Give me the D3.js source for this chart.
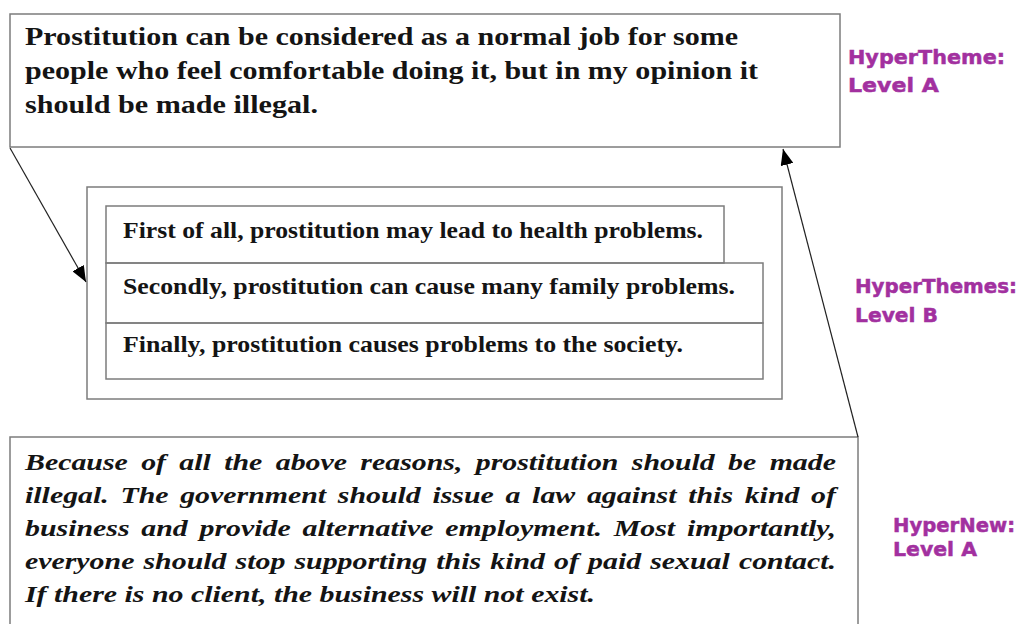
<!DOCTYPE html>
<html>
<head>
<meta charset="utf-8">
<script src="https://cdn.jsdelivr.net/npm/d3@7"></script>
<style>
  body { margin: 0; background: #fff; }
</style>
</head>
<body>
<div id="chart"></div>
<script>
// --- Text content ---
const thesisLines = [
    "Prostitution can be considered as a normal job for some",
    "people who feel comfortable doing it, but in my opinion it",
    "should be made illegal."
];
const reasonLines = [
    "First of all, prostitution may lead to health problems.",
    "Secondly, prostitution can cause many family problems.",
    "Finally, prostitution causes problems to the society."
];
const conclusionLines = [
    "Because of all the above reasons, prostitution should be made",
    "illegal. The government should issue a law against this kind of",
    "business and provide alternative employment. Most importantly,",
    "everyone should stop supporting this kind of paid sexual contact.",
    "If there is no client, the business will not exist."
];
const levelTitles = ["HyperTheme:", "HyperThemes:", "HyperNew:"];
const levelNames = ["Level A", "Level B", "Level A"];

// --- Layout ---
const W = 1020, H = 624;
const boxStroke = "#7c7c7c";
const ink = "#141414";
const purple = "#a2309f";
const serif = "Liberation Serif, Times New Roman, serif";

const topBox = { x: 10, y: 14, w: 830, h: 133 };
const midBox = { x: 87, y: 187, w: 695, h: 212 };
const rowBoxes = [
    { x: 106, y: 206, w: 618, h: 57 },
    { x: 106, y: 263, w: 657, h: 60 },
    { x: 106, y: 323, w: 657, h: 56 }
];
const bottomBox = { x: 10, y: 437, w: 848, h: 200 };

const svg = d3.select("#chart").append("svg")
    .attr("width", W).attr("height", H)
    .style("display", "block");

svg.append("defs").append("marker")
    .attr("id", "head")
    .attr("viewBox", "0 0 16 13")
    .attr("markerUnits", "userSpaceOnUse")
    .attr("markerWidth", 16).attr("markerHeight", 13)
    .attr("refX", 16).attr("refY", 6.5)
    .attr("orient", "auto")
    .append("path").attr("d", "M0,0 L16,6.5 L0,13 Z").attr("fill", "#000");

// Boxes
const allBoxes = [topBox, midBox, ...rowBoxes, bottomBox];
svg.selectAll("rect.box").data(allBoxes).join("rect")
    .attr("class", "box")
    .attr("x", d => d.x).attr("y", d => d.y)
    .attr("width", d => d.w).attr("height", d => d.h)
    .attr("fill", "none")
    .attr("stroke", boxStroke).attr("stroke-width", 1.5);

// squeeze / stretch a text line to a given width
function fitWidth(sel, widthFn) {
    sel.attr("textLength", widthFn).attr("lengthAdjust", "spacingAndGlyphs");
}

// Thesis text (bold serif)
const thesisWidths = [713, 733, 293];
svg.selectAll("text.thesis").data(thesisLines).join("text")
    .attr("class", "thesis")
    .attr("x", 25).attr("y", (d, i) => 45 + i * 34)
    .style("font-family", serif)
    .style("font-weight", "bold").style("font-size", "26px")
    .attr("fill", ink)
    .text(d => d)
    .call(fitWidth, (d, i) => thesisWidths[i]);

// Reasons (bold serif, condensed)
const reasonWidths = [580, 612, 560];
const reasonBase = [238, 294, 352];
svg.selectAll("text.reason").data(reasonLines).join("text")
    .attr("class", "reason")
    .attr("x", 123).attr("y", (d, i) => reasonBase[i])
    .style("font-family", serif)
    .style("font-weight", "bold").style("font-size", "24px")
    .attr("fill", ink)
    .text(d => d)
    .call(fitWidth, (d, i) => reasonWidths[i]);

// Conclusion (bold italic, wide, justified word by word)
const textLeft = 25, justifyWidth = 811, lastLineWidth = 570;
const conclG = svg.append("g");
const concl = conclG.selectAll("text.concl").data(conclusionLines).join("text")
    .attr("class", "concl")
    .attr("y", (d, i) => 470 + i * 33)
    .style("font-family", serif)
    .style("font-weight", "bold").style("font-style", "italic")
    .style("font-size", "24px")
    .attr("fill", ink);

const lineSpans = [];
concl.each(function(line) {
    const el = d3.select(this);
    const spans = line.split(" ").map(w => el.append("tspan").text(w));
    lineSpans.push({ spans, widths: spans.map(s => s.node().getComputedTextLength()) });
});
const spaceW = 6;
const lastInfo = lineSpans[lineSpans.length - 1];
const lastNatural = d3.sum(lastInfo.widths) + spaceW * (lastInfo.widths.length - 1);
const sx = lastLineWidth / lastNatural;
conclG.attr("transform", `translate(${textLeft},0) scale(${sx},1)`);

lineSpans.forEach((info, i) => {
    const last = i === lineSpans.length - 1;
    const n = info.widths.length;
    const gap = last ? spaceW : (justifyWidth / sx - d3.sum(info.widths)) / (n - 1);
    let x = 0;
    info.spans.forEach((s, k) => {
        s.attr("x", x);
        x += info.widths[k] + gap;
    });
});

// Level labels (purple heavy sans)
const labelPos = [
    { x: 848, y1: 64, y2: 92, w1: 157, w2: 91 },
    { x: 855, y1: 293, y2: 322, w1: 162, w2: 83 },
    { x: 893, y1: 532, y2: 556, w1: 122, w2: 84 }
];
const labels = svg.selectAll("g.level").data(levelTitles).join("g").attr("class", "level")
    .style("font-family", "DejaVu Sans, sans-serif").style("font-weight", "bold")
    .style("font-size", "20px")
    .attr("fill", purple).attr("stroke", purple).attr("stroke-width", 0.5);
labels.append("text")
    .attr("x", (d, i) => labelPos[i].x).attr("y", (d, i) => labelPos[i].y1)
    .text(d => d)
    .call(fitWidth, (d, i) => labelPos[i].w1);
labels.append("text")
    .attr("x", (d, i) => labelPos[i].x).attr("y", (d, i) => labelPos[i].y2)
    .text((d, i) => levelNames[i])
    .call(fitWidth, (d, i) => labelPos[i].w2);

// Arrows
const arrows = [
    { x1: topBox.x, y1: topBox.y + topBox.h + 1, x2: midBox.x - 1, y2: 282 },
    { x1: bottomBox.x + bottomBox.w, y1: bottomBox.y, x2: 783, y2: 149 }
];
svg.selectAll("line.arrow").data(arrows).join("line")
    .attr("class", "arrow")
    .attr("x1", d => d.x1).attr("y1", d => d.y1)
    .attr("x2", d => d.x2).attr("y2", d => d.y2)
    .attr("stroke", "#222").attr("stroke-width", 1.2)
    .attr("marker-end", "url(#head)");
</script>
</body>
</html>
